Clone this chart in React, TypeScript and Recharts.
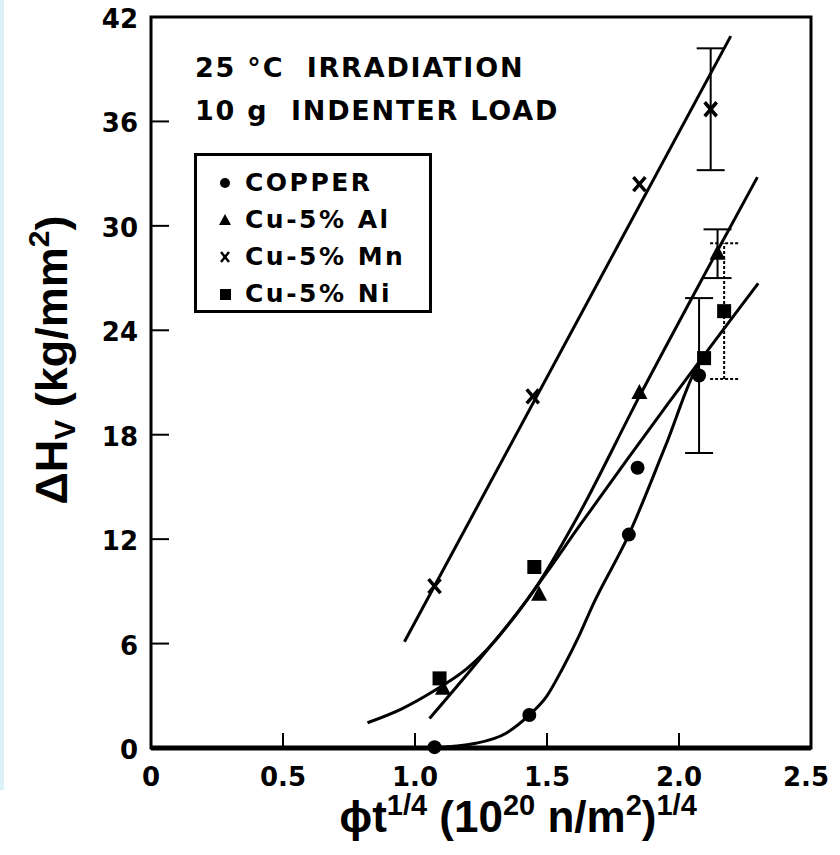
import React from 'react';
import {
    ComposedChart,
    XAxis,
    YAxis,
    Scatter,
    Line,
    ErrorBar,
    ReferenceArea,
    ReferenceLine,
} from 'recharts';

// axis ticks
const xTicks = [0, 0.5, 1.0, 1.5, 2.0, 2.5];
const xTickLabels = ['0', '0.5', '1.0', '1.5', '2.0', '2.5'];
const yTicks = [0, 6, 12, 18, 24, 30, 36, 42];

// measured points (error bar half-widths where drawn)
const copperX = [1.074, 1.433, 1.81, 1.843, 2.076];
const copperY = [0.05, 1.9, 12.26, 16.1, 21.4];
const copperErr = [0, 0, 0, 0, 4.45];

const alX = [1.106, 1.47, 1.85, 2.146];
const alY = [3.4, 8.8, 20.4, 28.4];
const alErr = [0, 0, 0, 1.4];

const mnX = [1.074, 1.446, 1.85, 2.12];
const mnY = [9.3, 20.2, 32.4, 36.7];
const mnErr = [0, 0, 0, 3.5];

const niX = [1.093, 1.452, 2.095, 2.171];
const niY = [4.0, 10.4, 22.4, 25.1];
const niErr = [0, 0, 0, 3.9];

// hand-drawn fit curves
const copperFitX = [1.06, 1.23, 1.345, 1.433, 1.5, 1.56, 1.62, 1.673, 1.81, 1.95, 2.076, 2.108];
const copperFitY = [0, 0.27, 0.85, 1.9, 3.0, 4.6, 6.4, 8.2, 12.26, 17.4, 22.1, 22.7];

const alFitX = [1.055, 1.25, 1.47, 1.62, 1.85, 2.1, 2.297];
const alFitY = [1.7, 5.2, 9.5, 13.4, 20.2, 27.3, 32.8];

const mnFitX = [0.96, 2.196];
const mnFitY = [6.1, 40.9];

const niFitX = [0.82, 0.95, 1.074, 1.2, 1.3, 1.4, 1.5, 1.62, 1.8, 1.964, 2.3];
const niFitY = [1.45, 2.25, 3.3, 4.6, 6.1, 8.0, 10.1, 12.7, 16.5, 19.9, 26.7];

const legendNames = ['COPPER', 'Cu-5% Al', 'Cu-5% Mn', 'Cu-5% Ni'];

const pts = (xs: number[], ys: number[], errs?: number[]) =>
    xs.map((x, i) => ({ x, y: ys[i], err: errs && errs[i] ? errs[i] : undefined }));

const tickFont = { fontFamily: '"DejaVu Sans", sans-serif', fontWeight: 700, fontSize: 26, fill: '#000' };

const DotShape = (p: any) => <circle cx={p.cx} cy={p.cy} r={7} fill="#000" />;
const TriShape = (p: any) => (
    <polygon points={`${p.cx},${p.cy - 9} ${p.cx - 8},${p.cy + 6} ${p.cx + 8},${p.cy + 6}`} fill="#000" />
);
const CrossShape = (p: any) => (
    <g stroke="#000" strokeWidth={3.5}>
        <line x1={p.cx - 6} y1={p.cy - 7} x2={p.cx + 6} y2={p.cy + 7} />
        <line x1={p.cx + 6} y1={p.cy - 7} x2={p.cx - 6} y2={p.cy + 7} />
    </g>
);
const SquareShape = (p: any) => <rect x={p.cx - 7} y={p.cy - 7} width={14} height={14} fill="#000" />;

const BottomTick = ({ x, y, payload }: any) => {
    const i = xTicks.indexOf(payload.value);
    // last label sits against the page edge, nudge it in
    const tx = i === xTicks.length - 1 ? x - 5 : x;
    return (
        <g>
            <line x1={x} y1={y} x2={x} y2={y - 15} stroke="#000" strokeWidth={2} />
            <text x={tx} y={y + 38} textAnchor="middle" {...tickFont}>
                {xTickLabels[i]}
            </text>
        </g>
    );
};

const TopTick = ({ x, y }: any) => <line x1={x} y1={y} x2={x} y2={y + 16} stroke="#000" strokeWidth={2} />;

const LeftTick = ({ x, y, payload }: any) => (
    <g>
        <line x1={x} y1={y} x2={x + 18} y2={y} stroke="#000" strokeWidth={2} />
        <text x={x - 13} y={y + 11} textAnchor="end" {...tickFont}>
            {payload.value}
        </text>
    </g>
);

const RightTick = ({ x, y }: any) => <line x1={x} y1={y} x2={x - 20} y2={y} stroke="#000" strokeWidth={2} />;

const legendMarks = [
    <circle cx={8} cy={8} r={5} fill="#000" />,
    <polygon points="8,2 2,13 14,13" fill="#000" />,
    <g stroke="#000" strokeWidth={2.5}>
        <line x1={4} y1={3} x2={12} y2={13} />
        <line x1={12} y1={3} x2={4} y2={13} />
    </g>,
    <rect x={3} y={3} width={11} height={11} fill="#000" />,
];

const textStyle: React.CSSProperties = {
    fontFamily: '"DejaVu Sans", sans-serif',
    fontWeight: 700,
    color: '#000',
    whiteSpace: 'pre',
    lineHeight: 1,
};

export default function App() {
    return (
        <div style={{ position: 'relative', width: 824, height: 847, marginTop: -8, overflow: 'hidden', background: '#fff' }}>
            <div style={{ position: 'fixed', left: 0, top: 0, width: 4, height: 790, background: '#daf2f8' }} />
            <ComposedChart width={824} height={847} margin={{ top: 17, right: 21, left: 83, bottom: 59 }}>
                <XAxis
                    dataKey="x"
                    type="number"
                    domain={[0, 2.5]}
                    ticks={xTicks}
                    height={40}
                    axisLine={false}
                    tickLine={false}
                    tickSize={0}
                    tickMargin={0}
                    tick={<BottomTick />}
                    interval={0}
                    label={{
                        position: 'insideBottom',
                        content: () => (
                            <text
                                x={510}
                                y={832}
                                textAnchor="middle"
                                fontFamily='"Liberation Sans", Arial, sans-serif'
                                fontWeight={700}
                                fontSize={44}
                                fill="#000"
                            >
                                ϕt<tspan fontSize={29} dy={-17}>1/4</tspan>
                                <tspan dy={17}> (10</tspan>
                                <tspan fontSize={29} dy={-17}>20</tspan>
                                <tspan dy={17}> n/m</tspan>
                                <tspan fontSize={29} dy={-17}>2</tspan>
                                <tspan dy={17}>)</tspan>
                                <tspan fontSize={29} dy={-17}>1/4</tspan>
                            </text>
                        ),
                    }}
                />
                <XAxis
                    xAxisId="top"
                    orientation="top"
                    type="number"
                    domain={[0, 2.5]}
                    ticks={xTicks}
                    height={0}
                    axisLine={false}
                    tickLine={false}
                    tickSize={0}
                    tickMargin={0}
                    tick={<TopTick />}
                    interval={0}
                />
                <YAxis
                    type="number"
                    domain={[0, 42]}
                    ticks={yTicks}
                    width={60}
                    axisLine={false}
                    tickLine={false}
                    tickSize={0}
                    tickMargin={0}
                    tick={<LeftTick />}
                    interval={0}
                    label={{
                        position: 'insideLeft',
                        content: () => (
                            <text
                                x={59}
                                y={360}
                                transform="rotate(-90 59 360)"
                                textAnchor="middle"
                                fontFamily='"Liberation Sans", Arial, sans-serif'
                                fontWeight={700}
                                fontSize={45}
                                fill="#000"
                            >
                                ΔH<tspan fontSize={30} dy={8}>V</tspan>
                                <tspan dy={-8}>  (kg/mm</tspan>
                                <tspan fontSize={30} dy={-18}>2</tspan>
                                <tspan dy={18}>)</tspan>
                            </text>
                        ),
                    }}
                />
                <YAxis
                    yAxisId="right"
                    orientation="right"
                    type="number"
                    domain={[0, 42]}
                    ticks={yTicks}
                    width={0}
                    axisLine={false}
                    tickLine={false}
                    tickSize={0}
                    tickMargin={0}
                    tick={<RightTick />}
                    interval={0}
                />
                <ReferenceArea x1={0} x2={2.5} y1={0} y2={42} fill="none" stroke="#000" strokeWidth={3} />
                <ReferenceLine y={0} stroke="#000" strokeWidth={5} />

                <Line data={pts(copperFitX, copperFitY)} dataKey="y" type="monotone" stroke="#000" strokeWidth={3} dot={false} isAnimationActive={false} legendType="none" />
                <Line data={pts(alFitX, alFitY)} dataKey="y" type="monotone" stroke="#000" strokeWidth={3} dot={false} isAnimationActive={false} legendType="none" />
                <Line data={pts(mnFitX, mnFitY)} dataKey="y" type="linear" stroke="#000" strokeWidth={3} dot={false} isAnimationActive={false} legendType="none" />
                <Line data={pts(niFitX, niFitY)} dataKey="y" type="monotone" stroke="#000" strokeWidth={3} dot={false} isAnimationActive={false} legendType="none" />

                <Scatter name="COPPER" data={pts(copperX, copperY, copperErr)} dataKey="y" shape={DotShape} isAnimationActive={false}>
                    <ErrorBar dataKey="err" direction="y" width={14} stroke="#000" strokeWidth={2} />
                </Scatter>
                <Scatter name="Cu-5% Al" data={pts(alX, alY, alErr)} dataKey="y" shape={TriShape} isAnimationActive={false}>
                    <ErrorBar dataKey="err" direction="y" width={14} stroke="#000" strokeWidth={2} />
                </Scatter>
                <Scatter name="Cu-5% Mn" data={pts(mnX, mnY, mnErr)} dataKey="y" shape={CrossShape} isAnimationActive={false}>
                    <ErrorBar dataKey="err" direction="y" width={14} stroke="#000" strokeWidth={2} />
                </Scatter>
                <Scatter name="Cu-5% Ni" data={pts(niX, niY, niErr)} dataKey="y" shape={SquareShape} isAnimationActive={false}>
                    <ErrorBar dataKey="err" direction="y" width={14} stroke="#000" strokeWidth={2} strokeDasharray="3 2" />
                </Scatter>
            </ComposedChart>

            {/* annotation + legend box, top-left inside the plot */}
            <div style={{ ...textStyle, position: 'absolute', left: 187, top: 54, fontSize: 27, letterSpacing: 1.8 }}>
                25 °C  IRRADIATION
            </div>
            <div style={{ ...textStyle, position: 'absolute', left: 187, top: 97, fontSize: 27, letterSpacing: 1.8 }}>
                10 g  INDENTER LOAD
            </div>
            <div
                style={{
                    position: 'absolute',
                    left: 186,
                    top: 153,
                    width: 232,
                    height: 154,
                    border: '3px solid #000',
                    background: '#fff',
                }}
            >
                {legendNames.map((name, i) => (
                    <div key={name} style={{ position: 'absolute', left: 20, top: 14 + i * 37, display: 'flex', alignItems: 'center' }}>
                        <svg width={16} height={16} style={{ marginRight: 12 }}>
                            {legendMarks[i]}
                        </svg>
                        <span style={{ ...textStyle, fontSize: 25, letterSpacing: 2.5 }}>{name}</span>
                    </div>
                ))}
            </div>
        </div>
    );
}
